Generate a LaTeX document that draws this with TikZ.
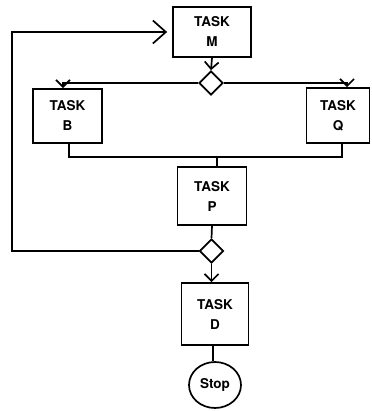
\documentclass[tikz,border=0pt]{standalone}
\usepackage{fontspec}
\setmainfont{TeX Gyre Heros}
\usetikzlibrary{arrows.meta,shapes.geometric}
\begin{document}
\begin{tikzpicture}[x=1pt,y=-1pt,
  line width=1.7pt,
  task/.style={draw,rectangle,align=center,font=\fontsize{13.5}{20}\selectfont\bfseries,inner sep=0pt},
  dec/.style={draw,diamond,aspect=1,inner sep=0pt,minimum width=24pt,minimum height=24pt},
  stopnode/.style={draw,ellipse,inner sep=0pt,minimum width=52pt,minimum height=46pt,font=\fontsize{13.5}{15}\selectfont\bfseries},
  chev/.style={-{Straight Barb[length=7pt,width=14pt,line width=1.7pt]}},
  bigchev/.style={-{Straight Barb[length=13pt,width=23pt,line width=1.7pt]}}
]
\useasboundingbox (0,0) rectangle (371,411);
\node[task,minimum width=78pt,minimum height=50pt] (M) at (212,32) {TASK\\M};
\node[dec] (d1) at (211,83) {};
\node[task,minimum width=69pt,minimum height=54pt] (B) at (67.5,116) {TASK\\B};
\node[task,minimum width=63pt,minimum height=55pt] (Q) at (338,115.5) {TASK\\Q};
\node[task,minimum width=69pt,minimum height=58pt] (P) at (212,196) {TASK\\P};
\node[dec] (d2) at (211.5,251) {};
\node[task,minimum width=67pt,minimum height=62pt] (D) at (215,314) {TASK\\D};
\node[stopnode] (S) at (215,385) {Stop};
% junction coordinates
\coordinate (lb) at (12,251);
\coordinate (lt) at (12,32);
\coordinate (bt) at (63,83);
\coordinate (qt) at (347,83);
\coordinate (bb) at (69,157);
\coordinate (qb) at (342,157);
\coordinate (pj) at (217,157);
\coordinate (dj) at (213,345);
% connectors
\draw[bigchev,shorten >=5pt] (d2.west) -- (lb) -- (lt) -- (M.west);
\draw[chev] (M.south) -- (d1.north);
\draw[chev] (d1.west) -- (bt) -- (bt |- B.north);
\draw[chev] (d1.east) -- (qt) -- (qt |- Q.north);
\draw (bb |- B.south) -- (bb) -- (qb) -- (qb |- Q.south);
\draw (pj) -- (pj |- P.north);
\draw (P.south) -- (d2.north);
\draw[chev] (d2.south) -- (d2.south |- D.north);
\draw (dj |- D.south) -- (dj |- S.north);
\end{tikzpicture}
\end{document}
